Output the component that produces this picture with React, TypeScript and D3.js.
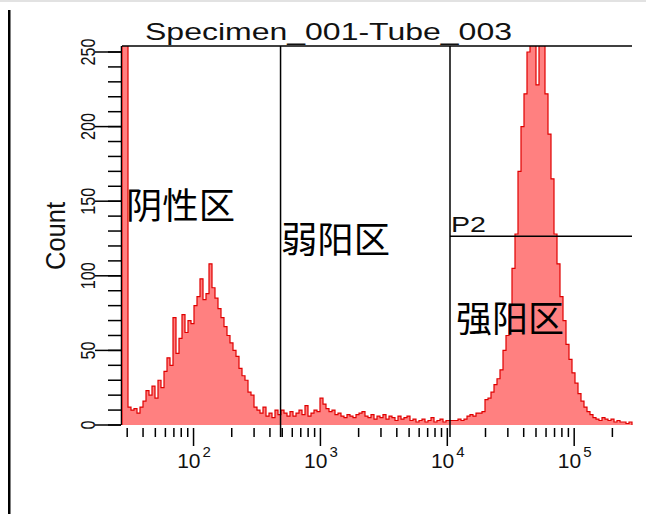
import React from 'react';
import * as d3 from 'd3';

// histogram channel range and counts (equal bins in log space)
const channelMin = 27.3;
const channelMax = 285500;
const counts = [
  300, 300, 12, 10, 11, 8, 12, 16, 23, 20,
  26, 18, 30, 25, 36, 45, 40, 72, 48, 58,
  74, 62, 70, 68, 80, 86, 98, 84, 88, 108,
  92, 85, 78, 72, 66, 60, 55, 50, 46, 38,
  33, 30, 22, 20, 12, 10, 8, 12, 6, 8,
  5, 10, 7, 10, 8, 6, 9, 6, 8, 10,
  7, 13, 6, 8, 10, 9, 18, 14, 11, 9,
  10, 7, 8, 6, 5, 7, 6, 5, 7, 8,
  9, 6, 5, 7, 4, 6, 5, 7, 4, 6,
  5, 3, 6, 4, 5, 6, 3, 4, 2, 3,
  4, 2, 3, 5, 2, 3, 4, 2, 3, 3,
  3, 3, 4, 3, 4, 6, 7, 6, 8, 8,
  9, 17, 18, 22, 27, 31, 37, 50, 60, 80,
  105, 128, 170, 200, 222, 250, 270, 265, 228, 262,
  258, 222, 195, 165, 128, 108, 86, 70, 54, 44,
  35, 28, 21, 16, 12, 9, 7, 5, 4, 3,
  5, 4, 3, 4, 2, 3, 2, 2, 1, 2,
];

const title = 'Specimen_001-Tube_003';
const yLabel = 'Count';
const yMax = 250;
const yTicks = [0, 50, 100, 150, 200, 250];
const yMinorTicks = d3.range(0, 251, 10);
const decades = [2, 3, 4, 5];
const gates = [485, 10500];
const p2Level = 126.5;
const regions = ['阴性区', '弱阳区', '强阳区'];

const W = 646;
const H = 514;
const left = 122, right = 632, top = 46, bottom = 425;

export default function App() {
  const x = d3.scaleLog().domain([channelMin, channelMax]).range([left, right]);
  const y = d3.scaleLinear().domain([0, yMax]).range([bottom, 52]);

  const lo = Math.log10(channelMin);
  const step = (Math.log10(channelMax) - lo) / counts.length;
  const edge = (i: number) => Math.pow(10, lo + i * step);

  const pts: [number, number][] = [[edge(0), 0]];
  counts.forEach((c, i) => pts.push([edge(i), c]));
  pts.push([edge(counts.length), counts[counts.length - 1]]);
  pts.push([edge(counts.length), 0]);

  const area = d3.area<[number, number]>()
    .x(d => x(d[0]))
    .y0(y(0))
    .y1(d => y(d[1]))
    .curve(d3.curveStepAfter);
  const line = d3.line<[number, number]>()
    .x(d => x(d[0]))
    .y(d => y(d[1]))
    .curve(d3.curveStepAfter);

  const minor: number[] = [];
  for (let k = 1; k <= 5; k++) {
    for (let m = 2; m <= 9; m++) {
      const v = m * Math.pow(10, k);
      if (v >= channelMin && v <= channelMax) minor.push(v);
    }
  }

  const font = '"Liberation Sans", Arial, sans-serif';
  const cjk = '"Noto Sans CJK SC", sans-serif';

  return (
    <svg width={W} height={H} style={{ position: 'absolute', left: 0, top: 0, background: '#fff' }}>
      <rect x={0} y={0} width={W} height={2} fill="#e2e2e2" />
      <rect x={8} y={10} width={2.5} height={H - 10} fill="#000" />

      <text x={145} y={40} fontFamily={font} fontSize={24} textLength={367}
        lengthAdjust="spacingAndGlyphs" fill="#111">{title}</text>

      <defs>
        <clipPath id="plotclip">
          <rect x={left} y={top} width={right - left + 2} height={bottom - top + 1} />
        </clipPath>
      </defs>

      {/* y axis */}
      <line x1={121.5} x2={121.5} y1={top} y2={bottom} stroke="#000" strokeWidth={1.5} />
      {yMinorTicks.map(t => (
        <line key={'ym' + t} x1={108} x2={121} y1={y(t)} y2={y(t)} stroke="#000" strokeWidth={1.5} />
      ))}
      {yTicks.map(t => (
        <g key={'y' + t}>
          <line x1={95} x2={121} y1={y(t)} y2={y(t)} stroke="#000" strokeWidth={1.5} />
          <text transform={`translate(95,${y(t)}) rotate(-90)`} textAnchor="middle"
            fontFamily={font} fontSize={21} textLength={String(t).length * 9}
            lengthAdjust="spacingAndGlyphs" fill="#111">{t}</text>
        </g>
      ))}
      <text transform={`translate(65,236) rotate(-90)`} textAnchor="middle"
        fontFamily={font} fontSize={27} textLength={68} lengthAdjust="spacingAndGlyphs"
        fill="#111">{yLabel}</text>

      {/* histogram */}
      <g clipPath="url(#plotclip)">
        <path d={area(pts) || ''} fill="#ff8080" />
        <path d={line(pts) || ''} fill="none" stroke="#e00000" strokeWidth={1.2} />
      </g>

      {/* x axis */}
      {minor.map(v => (
        <line key={'xm' + v} x1={x(v)} x2={x(v)} y1={428} y2={437} stroke="#000" strokeWidth={1.5} />
      ))}
      {decades.map(k => (
        <g key={'xd' + k}>
          <line x1={x(Math.pow(10, k))} x2={x(Math.pow(10, k))} y1={428} y2={446} stroke="#000" strokeWidth={1.5} />
          <text x={x(Math.pow(10, k)) + 7} y={468} textAnchor="end" fontFamily={font} fontSize={21} fill="#111">10</text>
          <text x={x(Math.pow(10, k)) + 9} y={457} fontFamily={font} fontSize={15} fill="#111">{k}</text>
        </g>
      ))}

      {/* gates */}
      <line x1={left} x2={right} y1={top} y2={top} stroke="#000" strokeWidth={1.5} />
      {gates.map(g => (
        <line key={'g' + g} x1={x(g)} x2={x(g)} y1={top} y2={437} stroke="#000" strokeWidth={1.5} />
      ))}
      <line x1={x(gates[1])} x2={right} y1={y(p2Level)} y2={y(p2Level)} stroke="#000" strokeWidth={1.5} />
      <text x={x(gates[1]) + 1} y={y(p2Level) - 4} fontFamily={font} fontSize={22}
        textLength={35} lengthAdjust="spacingAndGlyphs" fill="#111">P2</text>

      {/* region labels */}
      <text x={126} y={219} fontFamily={cjk} fontSize={36} textLength={109} lengthAdjust="spacingAndGlyphs" fill="#000">{regions[0]}</text>
      <text x={281} y={253} fontFamily={cjk} fontSize={36} textLength={109} lengthAdjust="spacingAndGlyphs" fill="#000">{regions[1]}</text>
      <text x={456} y={332} fontFamily={cjk} fontSize={36} textLength={108} lengthAdjust="spacingAndGlyphs" fill="#000">{regions[2]}</text>
    </svg>
  );
}
